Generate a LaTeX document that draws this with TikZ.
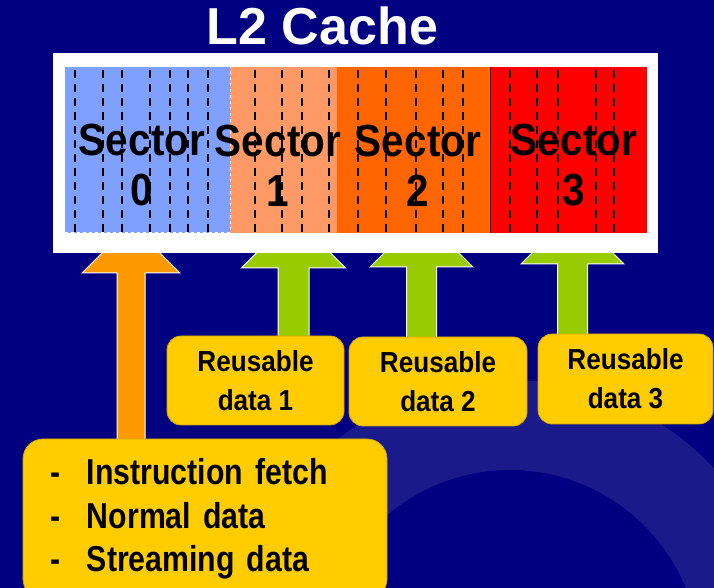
\documentclass[tikz,border=0pt]{standalone}
\usepackage{fontspec}
\setmainfont{Liberation Sans}
\newfontfamily\narrowsans[FakeStretch=0.9]{Liberation Sans}
\newfontfamily\narrowersans[FakeStretch=0.84]{Liberation Sans}
\usetikzlibrary{calc,backgrounds}

\definecolor{slidebg}{RGB}{0,0,128}
\definecolor{ringblue}{RGB}{26,26,138}
\definecolor{secblue}{RGB}{128,160,255}
\definecolor{secsalmon}{RGB}{255,153,102}
\definecolor{secorange}{RGB}{255,102,0}
\definecolor{secred}{RGB}{255,0,0}
\definecolor{boxyellow}{RGB}{255,204,0}
\definecolor{boxedge}{RGB}{205,165,0}
\definecolor{arroworange}{RGB}{255,153,0}
\definecolor{arrowgreen}{RGB}{153,204,0}

\newcommand{\feedarrow}[6]{%
    \fill[#1, draw=white, line width=1pt]
        let \p1 = (#2.north) in
        (#3-#5,\y1-2) -- (#3-#5,#4) -- (#3-#6,#4) -- (#3,#4+#6)
        -- (#3+#6,#4) -- (#3+#5,#4) -- (#3+#5,\y1-2) -- cycle;}

\begin{document}
\begin{tikzpicture}[
            x=1pt, y=1pt,
            title/.style={text=white, font=\bfseries\fontsize{52}{60}\selectfont},
            sectorlabel/.style={align=center, inner sep=0pt,
                    font=\narrowsans\bfseries\fontsize{45}{50}\selectfont},
            cutline/.style={black, line width=2pt, dash pattern=on 8pt off 6pt},
            reusebox/.style={fill=boxyellow, draw=boxedge, line width=0.8pt,
                    rounded corners=14pt, align=center, inner sep=0pt,
                    minimum width=177pt, minimum height=89pt,
                    font=\narrowsans\bfseries\fontsize{29}{39}\selectfont},
            srcbox/.style={fill=boxyellow, draw=boxedge, line width=0.8pt,
                    rounded corners=20pt, align=left, inner xsep=27pt,
                    text width=310pt, minimum height=160pt,
                    font=\narrowersans\bfseries\fontsize{36}{43.5}\selectfont}
        ]
        \useasboundingbox (0,0) rectangle (714,588);

        \node[title, anchor=base] (l2) at (322.5,543) {L2 Cache};

        \node[fill=white, inner sep=0pt, minimum width=605pt, minimum height=200pt] (cache) at (355.5,435) {};
        \foreach \xa/\xb/\c in {65/230/secblue, 230/337/secsalmon, 337/490/secorange, 490/647/secred}
            \fill[\c] (\xa,355) rectangle (\xb,521);
        \foreach \x in {75,103,122,150,170,188,208,255,282,302,329,358,386,416,443,463,510,537,558,596,614}
            \draw[cutline] (\x,518) -- (\x,355);
        \draw[white, line width=1pt, dashed] (65,355) -- (230,355) -- (230,521);
        \draw[black, line width=1pt] (490,355) -- (490,521);
        \foreach \i/\x in {0/142,1/278,2/418,3/574}
            \node[sectorlabel] (sec\i) at (\x,422.5) {Sector\\\i};

        \node[reusebox] (reuse1) at (255.5,207.5) {Reusable\\data 1};
        \node[reusebox, minimum width=178pt] (reuse2) at (438,206.5) {Reusable\\data 2};
        \node[reusebox, minimum width=175pt, minimum height=90pt] (reuse3) at (625.5,209) {Reusable\\data 3};
        \node[srcbox] (src) at (205,69) {\makebox[37pt][l]{-}Instruction fetch\\
            \makebox[37pt][l]{-}Normal data\\
            \makebox[37pt][l]{-}Streaming data};

        \begin{scope}[on background layer]
            \fill[slidebg] (0,0) rectangle (714,588);
            \fill[ringblue, even odd rule] (510,-72) circle[radius=280] (510,-72) circle[radius=190];
            \feedarrow{arroworange}{src}{131}{315}{14}{49}
            \feedarrow{arrowgreen}{reuse1}{293.5}{320}{15.5}{52}
            \feedarrow{arrowgreen}{reuse2}{421.5}{321}{15}{51.5}
            \feedarrow{arrowgreen}{reuse3}{572.5}{324}{15}{51.5}
        \end{scope}
    \end{tikzpicture}
\end{document}
